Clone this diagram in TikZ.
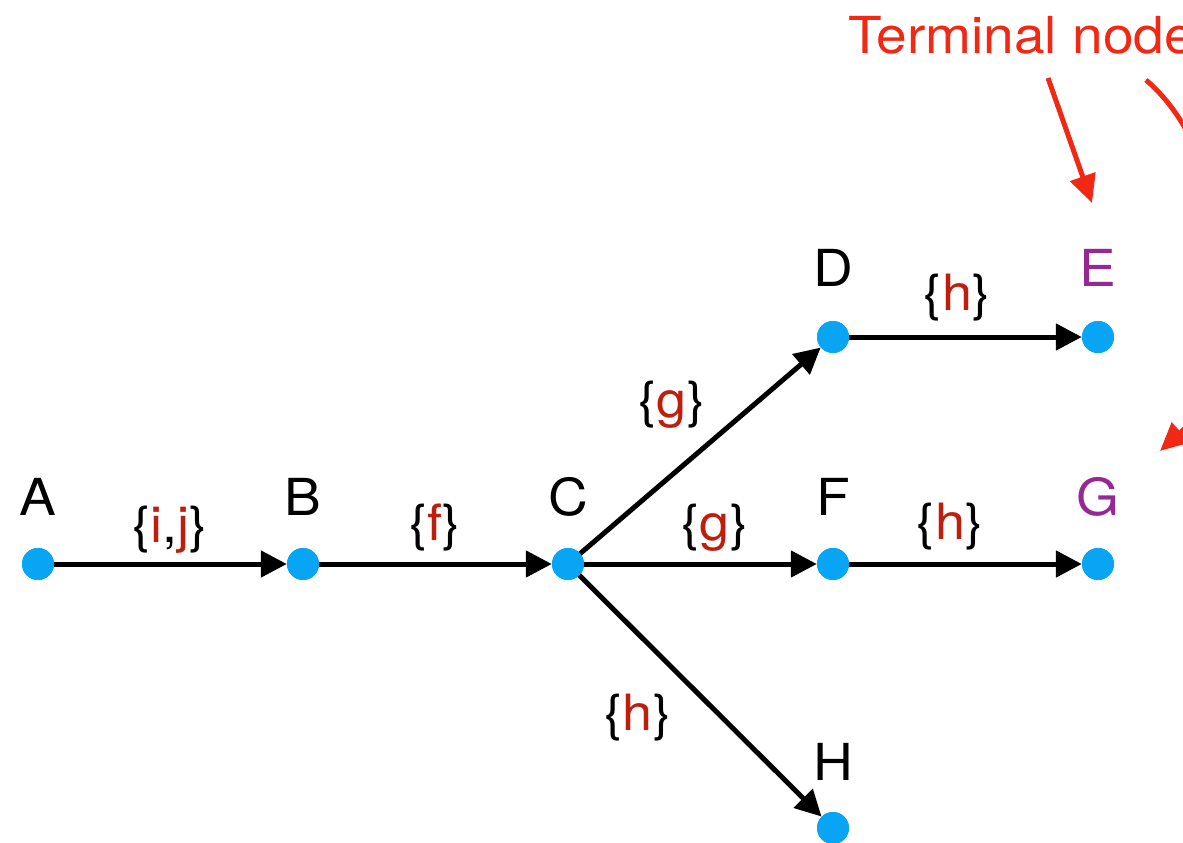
\documentclass[tikz,border=0pt]{standalone}
\usepackage{fontspec}
\setmainfont{TeX Gyre Heros}[FakeStretch=1.08]
\usetikzlibrary{arrows.meta}
\definecolor{dotblue}{RGB}{8,165,245}
\definecolor{labred}{RGB}{190,30,12}
\definecolor{termred}{RGB}{240,40,20}
\definecolor{termpurple}{RGB}{150,40,150}
\tikzset{
  dotnode/.style={circle,fill=dotblue,draw=none,minimum size=32pt,inner sep=0pt},
  namelabel/.style={anchor=base,inner sep=0pt,font=\fontsize{51}{60}\selectfont},
  edgelabel/.style={inner sep=0pt,font=\fontsize{50}{58}\selectfont},
  edge/.style={line width=5pt,-{Triangle[length=26pt,width=26pt]}},
  termarrow/.style={line width=5pt,color=termred,-{Triangle[length=28pt,width=26pt]}},
}
\newcommand{\rl}[1]{\textcolor{labred}{#1}}
\begin{document}
\begin{tikzpicture}[x=1pt,y=-1pt]
\useasboundingbox (0,0) rectangle (1183,843);
\clip (0,0) rectangle (1183,843);
% dots
\node[dotnode] (A) at (38,564) {};
\node[dotnode] (B) at (303,564) {};
\node[dotnode] (C) at (568,564) {};
\node[dotnode] (D) at (833,337) {};
\node[dotnode] (E) at (1098,337) {};
\node[dotnode] (F) at (833,564) {};
\node[dotnode] (G) at (1098,564) {};
\node[dotnode] (H) at (833,828) {};
% edges
\draw[edge] (A.center) -- (B);
\draw[edge] (B.center) -- (C);
\draw[edge] (C.center) -- (D);
\draw[edge] (C.center) -- (F);
\draw[edge] (C.center) -- (H);
\draw[edge] (D.center) -- (E);
\draw[edge] (F.center) -- (G);
% redraw dots on top
\foreach \n in {A,B,C,D,E,F,G,H}{\fill[dotblue] (\n) circle (16pt);}
% node names
\node[namelabel] (lA) at (38,515) {A};
\node[namelabel] (lB) at (303,515) {B};
\node[namelabel] (lC) at (568,515) {C};
\node[namelabel] (lD) at (833,286) {D};
\node[namelabel,text=termpurple] (lE) at (1098,286) {E};
\node[namelabel] (lF) at (833,515) {F};
\node[namelabel,text=termpurple] (lG) at (1098,515) {G};
\node[namelabel] (lH) at (833,780) {H};
% edge labels
\node[edgelabel] (eAB) at (170,530) {\{\rl{i},\rl{j}\}};
\node[edgelabel] (eBC) at (435,527) {\{\rl{f}\}};
\node[edgelabel] (eCD) at (672,405) {\{\rl{g}\}};
\node[edgelabel] (eCF) at (715,528) {\{\rl{g}\}};
\node[edgelabel] (eDE) at (957,298) {\{\rl{h}\}};
\node[edgelabel] (eFG) at (950,527) {\{\rl{h}\}};
\node[edgelabel] (eCH) at (638,718) {\{\rl{h}\}};
% terminal nodes annotation
\node[namelabel,anchor=base west,text=termred] (term) at (848,53) {Terminal nodes};
\coordinate (t1s) at (1048,78);
\coordinate (t1e) at (1092,203);
\coordinate (t2s) at (1146,80);
\coordinate (t2e) at (1160,451);
\draw[termarrow] (t1s) -- (t1e);
\draw[termarrow] (t2s) .. controls (1240,160) and (1250,370) .. (t2e);
\end{tikzpicture}
\end{document}
